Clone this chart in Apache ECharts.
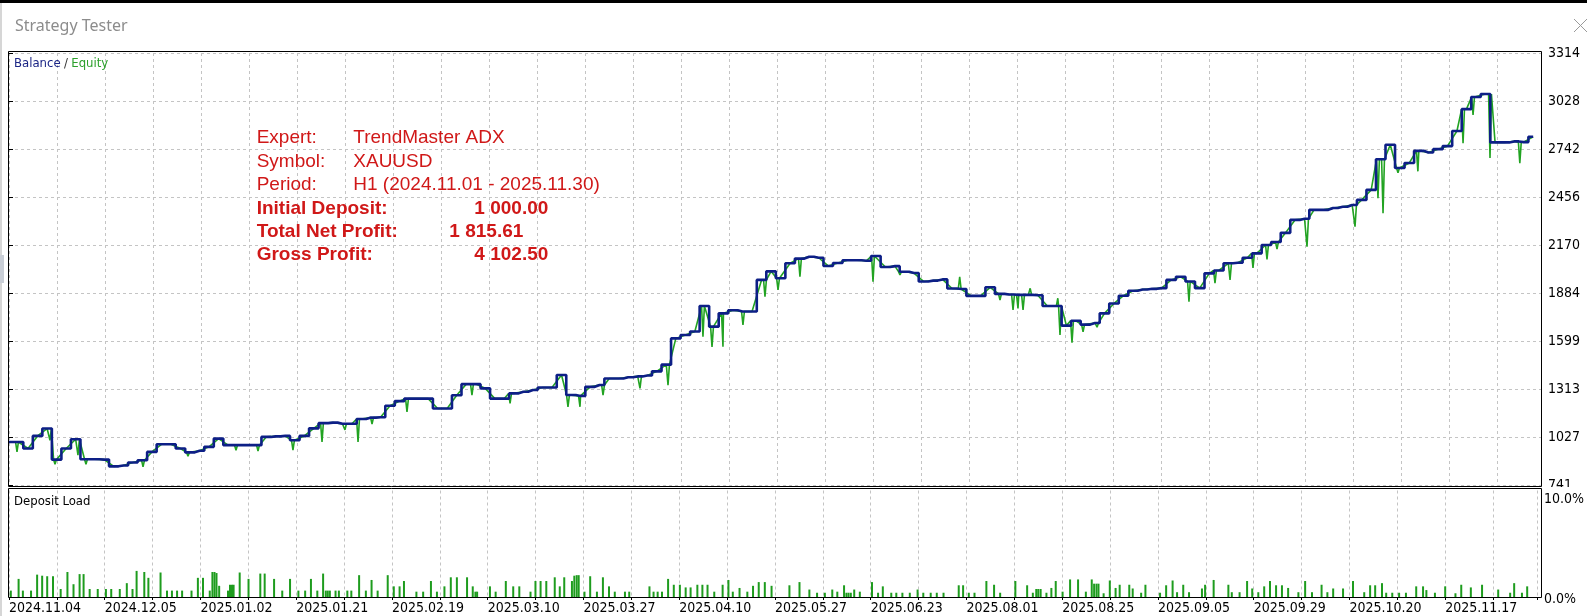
<!DOCTYPE html>
<html><head><meta charset="utf-8">
<script src="https://cdn.jsdelivr.net/npm/echarts@6/dist/echarts.min.js"></script>
<style>html,body{margin:0;padding:0;background:#fff;overflow:hidden}#c{width:1587px;height:616px}</style>
</head><body><div id="c"></div><script>
// ---------- data ----------
const dateLabels = ['2024.11.04','2024.12.05','2025.01.02','2025.01.21','2025.02.19','2025.03.10','2025.03.27','2025.04.10','2025.05.27','2025.06.23','2025.08.01','2025.08.25','2025.09.05','2025.09.29','2025.10.20','2025.11.17'];
const yTickValues = [741,1027,1313,1599,1884,2170,2456,2742,3028,3314];
const loadTicks = [0,10];
const balance = [1000,1000,961,1036,1080,895,961,1016,897,897,
 895,855,860,878,891,941,986,986,961,938,
 948,971,1020,981,981,981,981,1030,1033,1036,
 1010,1036,1081,1112,1115,1108,1108,1137,1145,1147,
 1215,1243,1258,1258,1258,1199,1199,1278,1344,1344,
 1319,1258,1258,1289,1299,1309,1324,1324,1398,1279,
 1274,1328,1339,1378,1378,1385,1390,1395,1420,1460,
 1616,1636,1657,1809,1686,1765,1784,1776,1776,1964,
 2015,1974,2063,2091,2102,2096,2047,2065,2081,2081,
 2078,2106,2041,2046,2013,2005,1955,1960,1967,1913,
 1910,1869,1869,1920,1881,1877,1875,1875,1873,1809,
 1809,1692,1721,1698,1708,1765,1824,1870,1900,1907,
 1911,1915,1964,1983,1955,1915,2003,2020,2063,2066,
 2096,2122,2172,2190,2244,2321,2328,2381,2381,2392,
 2399,2410,2440,2500,2682,2768,2630,2660,2732,2722,
 2742,2760,2850,2980,3052,3070,2782,2782,2788,2784,
 2816];
// equity excursions: [trade index, equity]
const equityDips = [[0.84,941],[4.3,1010],[4.83,868],[7.24,922],[8.08,868],[14.07,852],[18.79,915],[23.83,951],[26.14,946],[29.81,951],
 [32.86,1000],[35.27,1072],[36.64,1000],[38.11,1107],[41.78,1179],[48.6,1279],[52.6,1229],[58.68,1209],[59.94,1209],[62.36,1279],
 [66.24,1319],[69.18,1338],[72.85,1626],[73.8,1566],[74.95,1566],[77.05,1696],[79.36,1865],[80.73,1905],[83.03,1983],[90.7,1954],
 [93.53,1993],[99.8,1983],[104.03,1844],[105.4,1785],[105.92,1794],[106.45,1785],[107.2,1914],[110.1,1855],[110.33,1636],[111.59,1591],
 [112.75,1655],[114.22,1683],[123.87,1835],[126.6,1944],[128.18,1964],[130.59,2036],[132.06,2086],[133.11,2147],[136.26,2162],[141.3,2281],
 [143.71,2450],[144.24,2361],[145.81,2601],[147.9,2610],[152.64,2778],[153.69,2946],[155.47,2689],[158.6,2659]];
const loadX = [0.19,1.01,1.46,2.32,2.96,3.49,4.02,4.63,5.44,6.15,6.79,7.43,7.85,8.49,9.34,10.2,10.76,11.66,12.4,13.0,
 13.43,14.24,14.67,15.95,16.63,17.15,17.69,18.22,19.21,19.88,20.42,21.13,21.41,21.63,21.84,22.12,23.05,23.26,23.47,23.64,
 24.28,25.21,26.45,26.91,27.9,28.76,29.58,30.46,31.17,31.78,32.45,33.06,33.34,33.55,33.77,34.37,34.72,35.61,36.03,36.85,
 37.56,38.16,38.8,39.86,40.5,41.11,41.57,42.88,43.59,44.41,45.04,45.83,46.5,47.14,48.21,48.81,49.09,49.27,50.62,51.22,
 52.29,53.07,53.71,54.89,55.41,55.95,56.55,57.44,57.97,58.44,59.25,59.5,59.75,59.96,60.57,61.17,61.88,62.51,63.15,63.76,
 64.83,65.28,67.41,67.84,68.27,68.73,69.37,69.97,70.61,71.22,71.74,72.45,72.98,73.52,74.23,75.11,75.72,76.18,76.89,77.71,
 78.31,78.91,79.55,80.26,82.14,83.2,84.24,85.05,85.87,86.65,87.18,87.89,88.14,88.36,88.6,88.96,89.55,90.83,91.47,91.97,
 92.86,93.39,94.03,94.81,95.63,96.23,97.01,97.65,98.36,99.96,100.42,101.02,101.62,102.87,103.68,104.32,105.92,107.16,107.76,108.12,
 108.33,108.58,109.19,109.71,110.17,110.89,111.68,112.52,113.34,113.96,114.21,114.46,114.67,115.21,115.86,116.47,116.9,117.91,118.27,119.16,
 119.61,121.15,121.79,122.47,122.94,123.59,124.2,125.56,125.89,126.79,128.34,128.7,129.52,130.31,130.85,131.49,132.11,132.72,133.36,133.98,
 134.63,135.71,136.42,137.14,138.15,138.76,139.37,140.41,141.46,142.64,143.26,143.79,144.51,144.95,145.59,146.31,147.03,148.11,148.83,149.18,
 150.08,151.16,152.24,152.85,153.86,155.04,156.74,158.0,158.42,159.24,159.79];
const loadPct = [0.6,1.7,0.6,0.6,2.1,2.0,1.95,1.95,0.75,2.35,1.2,2.15,2.15,0.75,0.75,0.75,0.75,0.75,1.3,0.75,
 2.45,2.35,1.8,2.3,0.6,0.6,0.6,0.6,0.6,1.8,1.8,0.6,2.35,2.35,2.25,1.05,0.6,1.15,1.15,1.15,
 2.3,1.7,2.2,2.2,1.7,0.6,1.7,0.6,0.6,1.7,0.6,2.2,0.6,0.6,0.6,0.6,0.6,0.6,0.6,2.05,
 0.6,1.6,0.6,2.05,1.0,1.0,1.5,0.5,0.5,1.5,0.5,1.0,1.85,1.85,1.85,1.0,0.5,0.5,1.0,0.5,
 1.5,1.0,1.0,0.5,1.5,1.5,1.5,1.85,1.0,1.85,1.5,2.0,2.05,2.05,0.5,1.95,0.5,1.85,1.0,0.5,
 0.5,0.5,1.0,0.5,0.5,0.5,1.7,1.15,1.15,0.9,0.9,1.15,1.15,1.15,0.5,1.15,1.6,0.5,0.85,0.5,
 1.05,1.4,1.4,1.05,1.1,1.4,0.7,0.4,0.4,0.7,0.5,1.1,0.4,0.4,0.4,0.7,0.5,1.4,0.4,1.0,
 0.4,0.4,0.4,0.4,0.7,0.4,0.4,0.4,0.4,1.1,1.1,0.4,0.4,1.5,1.15,0.4,1.5,1.1,0.4,0.75,
 0.75,0.75,0.4,0.85,1.5,0.5,1.65,1.65,0.5,1.65,1.25,1.25,1.25,0.35,1.55,0.85,1.15,1.15,0.8,0.4,
 1.15,0.4,1.1,1.55,0.45,1.15,0.45,0.8,1.15,1.6,1.15,0.45,0.45,1.5,0.8,0.45,1.0,1.5,1.1,1.1,
 0.85,0.45,1.5,0.45,1.15,0.45,0.8,0.8,1.5,0.45,1.1,1.1,1.3,0.4,0.4,0.4,0.4,1.0,1.0,0.65,
 0.4,1.0,0.35,1.15,0.9,1.15,0.7,0.4,1.3,0.4,1.0];

// ---------- layout / style constants ----------
const PX_PER_TRADE = 9.526;
const TICK = 48 / PX_PER_TRADE;           // grid spacing in trades
const X_MAX = 1532 / PX_PER_TRADE;
const AX_FONT = '"DejaVu Sans Condensed", "DejaVu Sans", sans-serif';
const RED = '#d01818', NAVY = '#0d1f86', GREEN = '#22a322', GRID = '#c4c4c4';

// ---------- build series data ----------
const balData = balance.map((v, i) => [i, v]);
const eqData = balance.map((v, i) => [i, v]);
equityDips.forEach(([x, v]) => {
  const b = balance[Math.round(x)];
  eqData.push([x - 0.15, b], [x, v], [x + 0.15, b]);
});
eqData.sort((a, b) => a[0] - b[0]);
const loadData = loadX.map((x, k) => [x, loadPct[k]]);

function dateFmt(val) {
  const k = Math.round(val / TICK);
  if (Math.abs(val - k * TICK) > 0.3 || k % 2) return '';
  return dateLabels[k / 2] || '';
}
function txt(x, y, text, font, fill, align) {
  return { type: 'text', z: 50, style: { x, y, text, font, fill, align: align || 'left', verticalAlign: 'middle', textAlign: align || 'left', textVerticalAlign: 'middle' } };
}
const F = '19px "Liberation Sans", Arial, sans-serif';
const FB = 'bold 19px "Liberation Sans", Arial, sans-serif';

const chart = echarts.init(document.getElementById('c'), null, { renderer: 'canvas' });
chart.setOption({
  animation: false,
  backgroundColor: '#fff',
  grid: [
    { left: 9, top: 53, width: 1532, height: 432.5 },
    { left: 9, top: 490.5, width: 1532, height: 106.5 }
  ],
  xAxis: [
    { type: 'value', gridIndex: 0, min: 0, max: X_MAX, interval: TICK,
      axisLine: { show: false }, axisTick: { show: false }, axisLabel: { show: false },
      splitLine: { show: true, lineStyle: { color: GRID, type: [3, 3], width: 1 } } },
    { type: 'value', gridIndex: 1, min: 0, max: X_MAX, interval: TICK,
      axisLine: { show: false },
      axisTick: { show: true, length: 3, lineStyle: { color: '#000' } },
      axisLabel: { show: true, formatter: dateFmt, align: 'left', margin: 4, color: '#000', fontSize: 14, fontFamily: AX_FONT, showMinLabel: true, showMaxLabel: true },
      splitLine: { show: true, lineStyle: { color: GRID, type: [3, 3], width: 1 } } }
  ],
  yAxis: [
    { type: 'value', gridIndex: 0, position: 'right', min: 741, max: 3314,
      axisLine: { show: false },
      axisTick: { show: true, length: 4, customValues: yTickValues, lineStyle: { color: '#000' } },
      axisLabel: { customValues: yTickValues, margin: 7, color: '#000', fontSize: 14, fontFamily: AX_FONT,
        formatter: v => String(Math.round(v)) },
      splitLine: { show: true, lineStyle: { color: GRID, type: [3, 3], width: 1 } } },
    { type: 'value', gridIndex: 1, position: 'right', min: 0, max: 10, interval: 10,
      axisLine: { show: false }, axisTick: { show: false }, splitLine: { show: false },
      axisLabel: { margin: 7, color: '#000', fontSize: 14, fontFamily: AX_FONT,
        formatter: v => v === loadTicks[1] ? '{a|10.0%}' : '{b|0.0%}',
        rich: { a: { padding: [17, 0, 0, 0], fontSize: 14, fontFamily: AX_FONT, color: '#000' },
                b: { padding: [5, 0, 0, 0], fontSize: 14, fontFamily: AX_FONT, color: '#000' } } } }
  ],
  series: [
    { type: 'line', name: 'Equity', xAxisIndex: 0, yAxisIndex: 0, data: eqData, showSymbol: false, z: 2,
      lineStyle: { color: GREEN, width: 1.6 }, silent: true },
    { type: 'line', name: 'Balance', xAxisIndex: 0, yAxisIndex: 0, data: balData, step: 'middle', showSymbol: false, z: 3,
      lineStyle: { color: NAVY, width: 2.6 }, silent: true },
    { type: 'bar', name: 'Deposit Load', xAxisIndex: 1, yAxisIndex: 1, data: loadData, barWidth: 2,
      itemStyle: { color: '#1e9c1e' }, silent: true }
  ],
  graphic: [
    { type: 'rect', z: 40, shape: { x: 0, y: 0, width: 1587, height: 3 }, style: { fill: '#000' } },
    { type: 'rect', z: 40, shape: { x: 0, y: 3, width: 2, height: 613 }, style: { fill: '#d6d6d6' } },
    { type: 'rect', z: 40, shape: { x: 0, y: 255, width: 4, height: 28 }, style: { fill: '#c9ced6' } },
    txt(15, 26, 'Strategy Tester', '16px "Noto Sans", sans-serif', '#8c8c8c'),
    { type: 'line', z: 40, shape: { x1: 1574, y1: 19, x2: 1587, y2: 32 }, style: { stroke: '#9a9a9a', lineWidth: 1 } },
    { type: 'line', z: 40, shape: { x1: 1587, y1: 19, x2: 1574, y2: 32 }, style: { stroke: '#9a9a9a', lineWidth: 1 } },
    { type: 'rect', z: 40, shape: { x: 8.5, y: 51.5, width: 1533, height: 435 }, style: { fill: null, stroke: '#000', lineWidth: 1 } },
    { type: 'rect', z: 40, shape: { x: 8.5, y: 488.5, width: 1533, height: 109 }, style: { fill: null, stroke: '#000', lineWidth: 1 } },
    { type: 'rect', z: 60, shape: { x: 1545, y: 487, width: 42, height: 6 }, style: { fill: '#fff' } },
    { type: 'text', z: 50, style: { x: 14, y: 64, verticalAlign: 'middle', textVerticalAlign: 'middle',
      text: '{b|Balance} {s|/} {e|Equity}',
      rich: { b: { fill: '#1b2585', fontSize: 13, fontFamily: AX_FONT }, s: { fill: '#333', fontSize: 13, fontFamily: AX_FONT }, e: { fill: '#2ca02c', fontSize: 13, fontFamily: AX_FONT } } } },
    txt(14, 502, 'Deposit Load', '13px ' + AX_FONT, '#000'),
    txt(256.7, 137.7, 'Expert:', F, RED),
    txt(353.3, 137.7, 'TrendMaster ADX', F, RED),
    txt(256.7, 161.7, 'Symbol:', F, RED),
    txt(353.3, 161.7, 'XAUUSD', F, RED),
    txt(256.7, 184.4, 'Period:', F, RED),
    txt(353.3, 184.4, 'H1 (2024.11.01 - 2025.11.30)', F, RED),
    txt(256.7, 208.4, 'Initial Deposit:', FB, RED),
    txt(548.3, 208.4, '1 000.00', FB, RED, 'right'),
    txt(256.7, 231.7, 'Total Net Profit:', FB, RED),
    txt(523.3, 231.7, '1 815.61', FB, RED, 'right'),
    txt(256.7, 255.1, 'Gross Profit:', FB, RED),
    txt(548.3, 255.1, '4 102.50', FB, RED, 'right')
  ]
});
</script></body></html>
